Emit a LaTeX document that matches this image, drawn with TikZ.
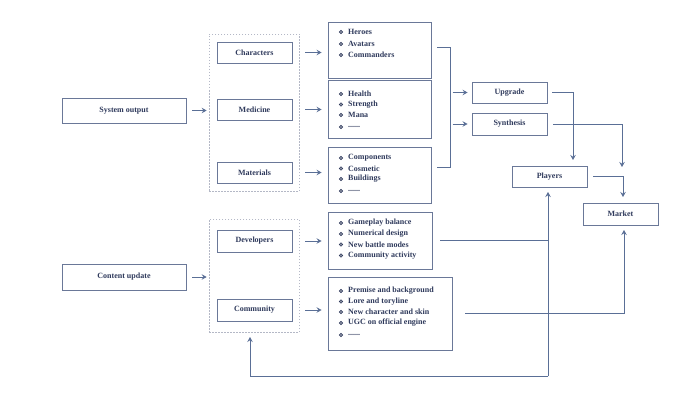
\documentclass[tikz,border=0pt]{standalone}
\usepackage{fontspec}
\setmainfont{Liberation Serif}
\usetikzlibrary{arrows.meta,calc}
\definecolor{boxc}{HTML}{6A7898}
\definecolor{linec}{HTML}{5A6F96}
\definecolor{arrc}{HTML}{3D5688}
\definecolor{txtc}{HTML}{2F3A5C}
\definecolor{grpc}{HTML}{B4B8C6}
\newcommand\mydots{......}
\tikzset{
  box/.style={rectangle,draw=boxc,line width=0.9pt,inner sep=0pt,text=txtc,
    font=\bfseries\fontsize{8}{9}\selectfont},
  grp/.style={rectangle,draw=grpc,line width=0.7pt,dash pattern=on 1.5pt off 1.5pt,inner sep=0pt},
  item/.style={anchor=west,inner sep=0pt,text=txtc,font=\bfseries\fontsize{8}{9}\selectfont},
  bul/.style={circle,draw=txtc,fill=txtc!55,line width=0.6pt,minimum size=3.4pt,inner sep=0pt},
  conn/.style={draw=linec,line width=0.9pt},
  arr/.style={conn,-{Stealth[length=5pt,width=5.5pt,inset=1.8pt]},draw=linec},
}
\begin{document}
\begin{tikzpicture}[x=1pt,y=-1pt]
\fill[white] (0,0) rectangle (700,406);
\useasboundingbox (0,0) rectangle (700,406);

% left boxes
\node[box,minimum width=124pt,minimum height=25pt] (sys) at (124,110.5) {System output};
\node[box,minimum width=124pt,minimum height=26pt] (cont) at (124,277) {Content update};

% groups
\node[grp,minimum width=90pt,minimum height=157pt] (g1) at (254,112.5) {};
\node[grp,minimum width=90pt,minimum height=113pt] (g2) at (254,275.5) {};

\node[box,minimum width=75pt,minimum height=21pt] (chars) at (254.5,52.5) {Characters};
\node[box,minimum width=75pt,minimum height=21pt] (med) at (254.5,109.5) {Medicine};
\node[box,minimum width=75pt,minimum height=21pt] (mat) at (254.5,172.5) {Materials};
\node[box,minimum width=75pt,minimum height=22pt] (dev) at (254.5,241) {Developers};
\node[box,minimum width=75pt,minimum height=22pt] (com) at (254.5,310) {Community};

% list boxes
\node[box,minimum width=103pt,minimum height=56pt] (L1) at (379.5,50) {};
\node[box,minimum width=103pt,minimum height=58pt] (L2) at (379.5,109) {};
\node[box,minimum width=103pt,minimum height=56pt] (L3) at (379.5,175) {};
\node[box,minimum width=104pt,minimum height=57pt] (L4) at (380,240.5) {};
\node[box,minimum width=124pt,minimum height=73pt] (L5) at (390,313.5) {};

% items
\foreach \n/\y/\t in {a1/32/Heroes,a2/44/Avatars,a3/55/Commanders,
  b1/94/Health,b2/104.5/Strength,b3/115/Mana,b4/127/\mydots,
  c1/158/Components,c2/168.5/Cosmetic,c3/179/Buildings,c4/191/\mydots,
  d1/223/Gameplay balance,d2/234/Numerical design,d3/244.5/New battle modes,d4/255.5/Community activity,
  e1/291/Premise and background,e2/301.5/Lore and toryline,e3/312/New character and skin,e4/323/UGC on official engine,e5/335/\mydots}{
  \node[bul] (bu\n) at (341,\y) {};
  \node[item] (it\n) at (348,\y) {\t};
}

% right boxes
\node[box,minimum width=75pt,minimum height=21pt] (upg) at (509.5,92.5) {Upgrade};
\node[box,minimum width=75pt,minimum height=22pt] (syn) at (509.5,124) {Synthesis};
\node[box,minimum width=75pt,minimum height=21pt] (pla) at (549.5,176.5) {Players};
\node[box,minimum width=75pt,minimum height=22pt] (mar) at (620.5,214) {Market};

% short arrows
\draw[arr] ([xshift=6pt]sys.east) -- ([xshift=-2pt]sys.east -| g1.west);
\draw[arr] ([xshift=6pt]cont.east) -- ([xshift=-2pt]cont.east -| g2.west);
\draw[arr] ([xshift=13pt]chars.east) -- ([xshift=-6pt]chars.east -| L1.west);
\draw[arr] ([xshift=13pt]med.east) -- ([xshift=-6pt]med.east -| L2.west);
\draw[arr] ([xshift=13pt]mat.east) -- ([xshift=-6pt]mat.east -| L3.west);
\draw[arr] ([xshift=13pt]dev.east) -- ([xshift=-6pt]dev.east -| L4.west);
\draw[arr] ([xshift=13pt]com.east) -- ([xshift=-6pt]com.east -| L5.west);

% bracket
\coordinate (bt) at (450,47);
\coordinate (bb) at (450,167);
\draw[conn] ([xshift=-13pt]bt) -- (bt) -- (bb) -- ([xshift=-13pt]bb);
\draw[arr] ([xshift=-19pt]upg.west) -- ([xshift=-4pt]upg.west);
\draw[arr] ([xshift=-19pt]syn.west) -- ([xshift=-4pt]syn.west);

% right flows
\coordinate (up1) at (573,160);
\draw[arr] ([xshift=5pt]upg.east) -| (up1);
\coordinate (sy1) at (622,167);
\draw[arr] ([xshift=6pt]syn.east) -| (sy1);
\coordinate (pm1) at (623,197);
\draw[arr] ([xshift=6pt]pla.east) -| (pm1);

% bottom feedback
\coordinate (fb) at (548,376);
\coordinate (fl) at (250,376);
\coordinate (pb) at (548,192);
\coordinate (gb) at (250,337);
\coordinate (mb) at (624,230);
\draw[conn] ([xshift=8pt]L4.east) -- (L4.east -| fb);
\draw[arr] (fb) -- (pb);
\draw[arr] (fb) -- (fl) -- (gb);
\draw[arr] ([xshift=13pt]L5.east) -| (mb);
\end{tikzpicture}
\end{document}
